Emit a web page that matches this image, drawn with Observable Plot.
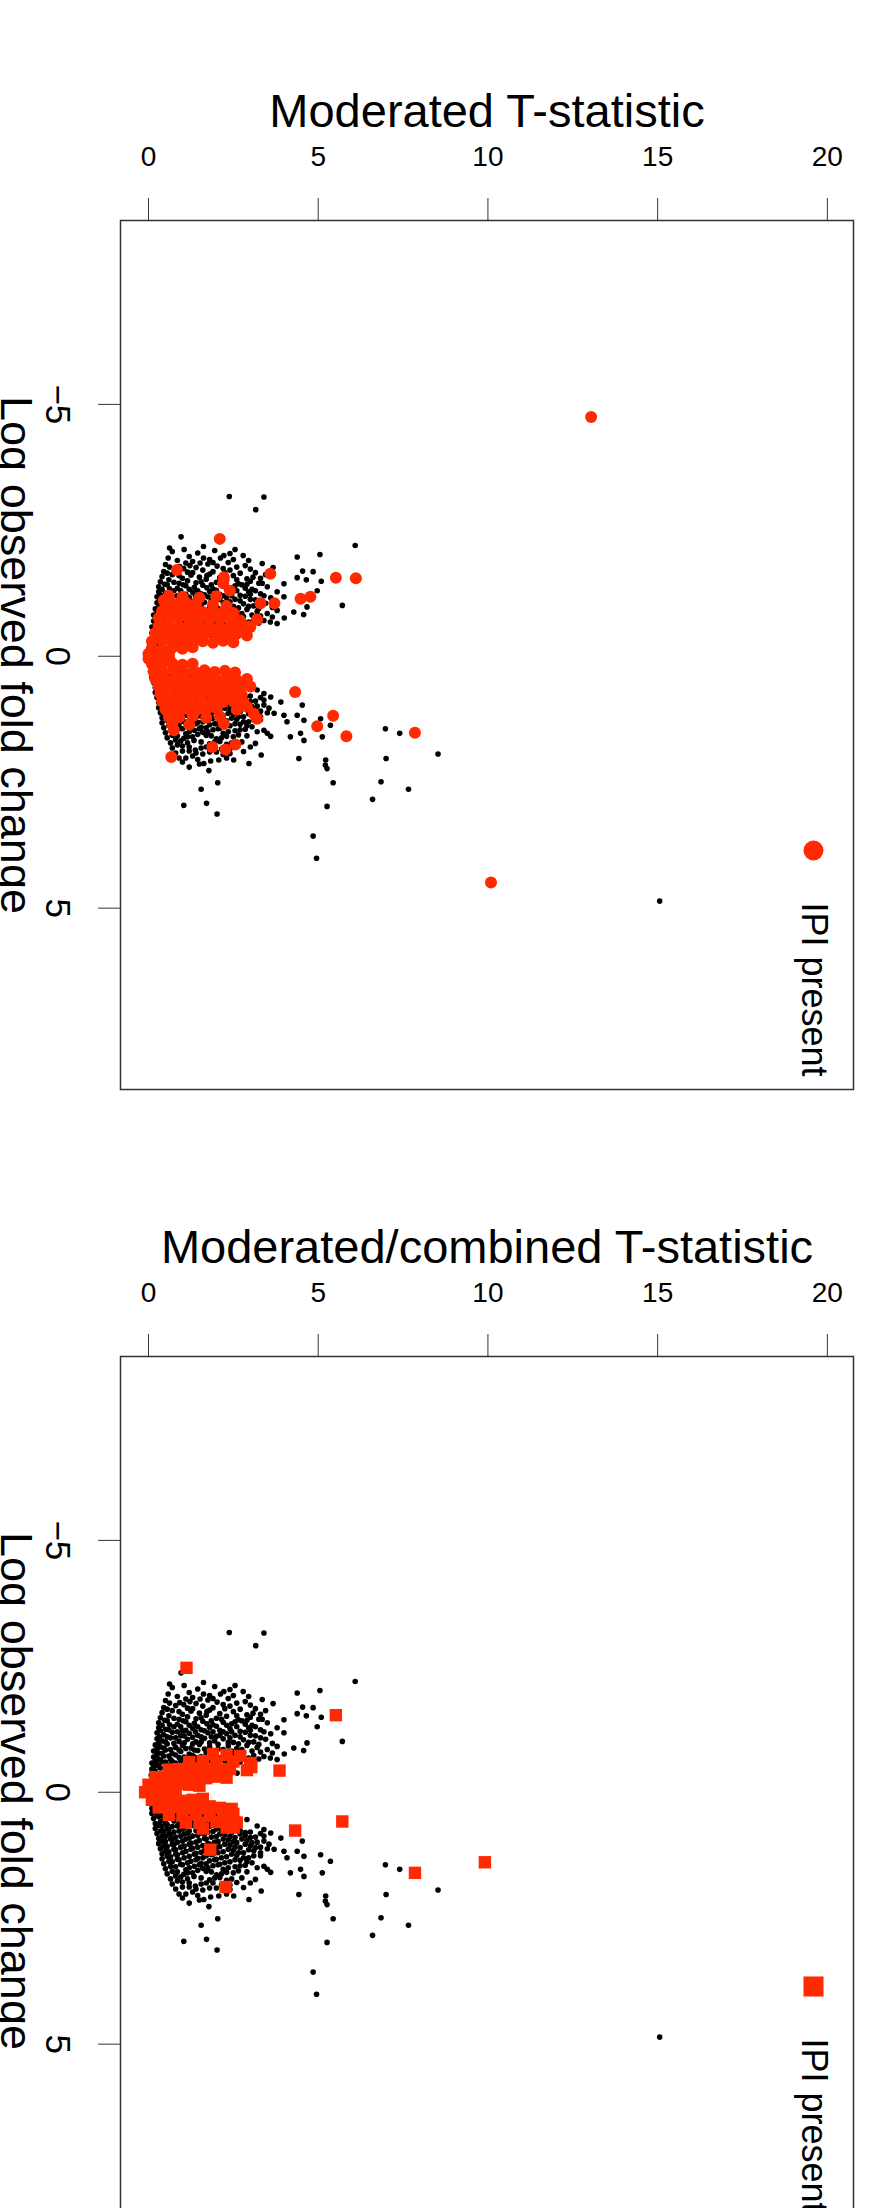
<!DOCTYPE html>
<html>
<head>
<meta charset="utf-8">
<script src="https://cdn.jsdelivr.net/npm/d3@7"></script>
<script src="https://cdn.jsdelivr.net/npm/@observablehq/plot@0.6"></script>
<style>
  html, body { margin: 0; padding: 0; background: #fff; }
  #p2 { height: 1072px; overflow: hidden; }
</style>
</head>
<body>
<div id="p1"></div>
<div id="p2"></div>
<script>
// ---- Data (T-statistic, log observed fold change) ----
const xTicks = [0, 5, 10, 15, 20];
const yTicks = [-5, 0, 5];
const titles = ["Moderated T-statistic", "Moderated/combined T-statistic"];
const yLabel = "Log observed fold change";
const legendLabel = "IPI present";

// All proteins (black), shared by both panels
const blackPoints = [
  [2.38,-3.17],[3.40,-3.16],[3.16,-2.91],[0.96,-2.37],[6.09,-2.2],
  [0.62,-2.15],[1.05,-2.12],[1.62,-2.18],[1.95,-2.1],[2.55,-2.12],
  [0.7,-2.08],[1.2,-1.98],[1.45,-2.05],[1.8,-1.92],[2.12,-1.95],[2.22,-2.0],[2.4,-2.04],[2.79,-2.0],[4.38,-1.97],[5.05,-2.02],
  [0.58,-1.95],[0.85,-1.9],[1.3,-1.88],[1.62,-1.95],[1.9,-1.86],[2.5,-1.92],[2.95,-1.9],
  [0.5,-1.82],[0.92,-1.78],[1.1,-1.85],[1.4,-1.76],[1.75,-1.83],[2.02,-1.79],[2.35,-1.86],[2.6,-1.77],[3.35,-1.84],[3.67,-1.76],
  [0.62,-1.77],[1.22,-1.8],[1.52,-1.85],[2.2,-1.74],[2.85,-1.8],[3.15,-1.66],
  [0.45,-1.68],[0.8,-1.72],[1.04,-1.74],[1.3,-1.66],[1.6,-1.71],[1.9,-1.68],[2.4,-1.71],[2.7,-1.65],[3.0,-1.73],[4.54,-1.69],[4.85,-1.68],
  [0.55,-1.65],[0.9,-1.6],[1.15,-1.67],[1.72,-1.6],[2.25,-1.66],[2.6,-1.52],[3.3,-1.55],
  [0.4,-1.58],[0.7,-1.62],[1.0,-1.55],[1.25,-1.61],[1.5,-1.57],[1.8,-1.63],[2.1,-1.56],[2.5,-1.6],[2.9,-1.54],[3.08,-1.57],[3.45,-1.62],
  [0.35,-1.48],[0.6,-1.52],[0.9,-1.45],[1.15,-1.5],[1.4,-1.46],[1.7,-1.53],[2.0,-1.47],[2.3,-1.51],[2.65,-1.44],[3.0,-1.49],[3.25,-1.45],[3.99,-1.44],[4.38,-1.56],[4.65,-1.52],[5.09,-1.49],
  [0.48,-1.43],[0.75,-1.47],[1.02,-1.42],[1.55,-1.48],[1.85,-1.42],[2.15,-1.45],[2.55,-1.4],[2.9,-1.43],[3.35,-1.45],
  [0.3,-1.38],[0.55,-1.42],[0.85,-1.35],[1.1,-1.4],[1.35,-1.37],[1.6,-1.41],[1.9,-1.34],[2.2,-1.39],[2.45,-1.36],[2.75,-1.42],[3.05,-1.33],[3.5,-1.38],[3.79,-1.28],
  [0.4,-1.33],[0.62,-1.34],[0.95,-1.3],[1.2,-1.33],[1.45,-1.3],[1.72,-1.36],[2.0,-1.31],[2.3,-1.33],[2.6,-1.3],[2.85,-1.35],[3.15,-1.3],
  [0.3,-1.28],[0.5,-1.25],[0.75,-1.3],[1.0,-1.22],[1.3,-1.27],[1.55,-1.24],[1.8,-1.29],[2.1,-1.23],[2.4,-1.26],[2.7,-1.21],[2.95,-1.28],[3.3,-1.24],[4.97,-1.3],
  [0.35,-1.22],[0.6,-1.24],[0.85,-1.2],[1.1,-1.23],[1.38,-1.2],[1.65,-1.22],[1.9,-1.2],[2.2,-1.2],[2.45,-1.2],[3.0,-1.23],[3.4,-1.2],
  [0.25,-1.18],[0.45,-1.14],[0.7,-1.19],[0.95,-1.12],[1.2,-1.17],[1.45,-1.13],[1.75,-1.18],[2.0,-1.11],[2.3,-1.16],[2.55,-1.13],[2.85,-1.19],[3.15,-1.12],[3.6,-1.16],[3.99,-1.18],
  [0.32,-1.1],[0.55,-1.1],[0.8,-1.08],[1.05,-1.12],[1.3,-1.09],[1.55,-1.1],[1.85,-1.1],[2.1,-1.13],[2.4,-1.08],[2.7,-1.1],[3.0,-1.13],[3.3,-1.08],
  [0.25,-1.06],[0.4,-1.02],[0.65,-1.08],[0.9,-1.01],[1.15,-1.05],[1.4,-1.0],[1.65,-1.07],[1.95,-1.02],[2.2,-1.06],[2.5,-0.99],[2.8,-1.04],[3.1,-1.0],[3.45,-1.05],[4.67,-0.98],[5.71,-1.01],
  [0.3,-0.98],[0.5,-1.0],[0.75,-0.97],[1.05,-0.98],[1.3,-0.96],[1.55,-1.0],[1.8,-0.98],[2.05,-0.95],[2.35,-0.99],[2.65,-0.96],[2.95,-0.99],[3.25,-0.95],[3.65,-0.97],
  [0.2,-0.94],[0.35,-0.9],[0.55,-0.96],[0.8,-0.89],[1.0,-0.93],[1.25,-0.88],[1.5,-0.95],[1.8,-0.9],[2.05,-0.86],[2.35,-0.92],[2.6,-0.87],[2.9,-0.93],[3.2,-0.89],[3.5,-0.85],[3.79,-0.91],[4.28,-0.88],[4.57,-0.83],
  [0.25,-0.86],[0.45,-0.88],[0.65,-0.85],[0.9,-0.84],[1.1,-0.87],[1.35,-0.84],[1.65,-0.86],[1.9,-0.83],[2.2,-0.85],[2.45,-0.82],[2.75,-0.85],[3.05,-0.82],[3.3,-0.8],[3.65,-0.78],[4.0,-0.76],
  [0.15,-0.82],[0.3,-0.78],[0.5,-0.84],[0.7,-0.77],[0.95,-0.81],[1.2,-0.76],[1.45,-0.83],[1.7,-0.78],[1.95,-0.74],[2.25,-0.8],[2.5,-0.76],[2.8,-0.79],[3.1,-0.73],[3.4,-0.71],[3.59,-0.68],[3.79,-0.65],
  [0.25,-0.75],[0.4,-0.77],[0.6,-0.72],[0.8,-0.74],[1.05,-0.7],[1.3,-0.73],[1.55,-0.71],[1.8,-0.73],[2.0,-0.7],[2.3,-0.72],[2.6,-0.7],[2.95,-0.68],[3.25,-0.66],
  [0.15,-0.7],[0.3,-0.66],[0.45,-0.72],[0.65,-0.65],[0.9,-0.69],[1.1,-0.64],[1.35,-0.7],[1.6,-0.66],[1.85,-0.62],[2.1,-0.68],[2.4,-0.63],[2.7,-0.6],
  [0.2,-0.62],[0.35,-0.64],[0.5,-0.6],[0.7,-0.61],[0.95,-0.63],[1.15,-0.6],[1.45,-0.62],[1.7,-0.6],[1.95,-0.64],[2.25,-0.62],[2.55,-0.6],[2.9,-0.6],
  [0.1,-0.58],[0.25,-0.55],[0.4,-0.6],[0.6,-0.54],[0.8,-0.58],[1.0,-0.52],[1.25,-0.57],[1.5,-0.53],[1.7,-0.49],[1.95,-0.55],[2.2,-0.5],[2.61,-0.38],
  [0.15,-0.5],[0.3,-0.52],[0.5,-0.48],[0.7,-0.5],[0.9,-0.52],[1.1,-0.48],[1.35,-0.5],[1.6,-0.47],[1.8,-0.5],[2.1,-0.46],[2.4,-0.5],
  [0.1,-0.46],[0.2,-0.42],[0.35,-0.48],[0.55,-0.41],[0.75,-0.45],[0.95,-0.4],[1.15,-0.44],[1.4,-0.39],[1.6,-0.36],[1.85,-0.42],
  [0.08,-0.34],[0.2,-0.3],[0.3,-0.36],[0.5,-0.29],[0.7,-0.33],[0.9,-0.27],[1.1,-0.31],[1.3,-0.26],
  [0.05,-0.22],[0.15,-0.18],[0.3,-0.24],[0.45,-0.17],[0.65,-0.21],[0.85,-0.16],
  [0.05,-0.1],[0.15,-0.07],[0.25,-0.12],[0.4,-0.05],
  [0.05,0.08],[0.15,0.12],[0.3,0.06],[0.45,0.1],
  [0.05,0.2],[0.15,0.24],[0.3,0.18],[0.45,0.22],
  [0.1,0.32],[0.2,0.28],[0.35,0.34],[0.55,0.29],[0.75,0.33],[0.95,0.27],
  [0.1,0.42],[0.25,0.38],[0.4,0.44],[0.6,0.39],[0.8,0.43],[1.0,0.37],[1.2,0.41],[1.45,0.36],
  [0.25,0.45],[0.45,0.5],[0.65,0.42],[0.85,0.48],[1.05,0.44],[1.25,0.5],[1.5,0.42],[1.75,0.52],[2.0,0.42],
  [0.15,0.52],[0.3,0.48],[0.5,0.54],[0.7,0.47],[0.9,0.51],[1.1,0.46],[1.35,0.53],[1.6,0.48],[1.85,0.45],[2.1,0.5],
  [0.2,0.62],[0.35,0.58],[0.55,0.64],[0.75,0.57],[1.0,0.61],[1.2,0.56],[1.45,0.63],[1.7,0.58],[1.95,0.55],[2.2,0.6],[2.5,0.57],[2.9,0.54],
  [0.3,0.66],[0.5,0.6],[0.7,0.68],[0.9,0.62],[1.1,0.66],[1.35,0.6],[1.6,0.67],[1.85,0.62],[2.1,0.68],[2.4,0.62],[2.7,0.6],
  [0.2,0.72],[0.4,0.68],[0.6,0.74],[0.85,0.67],[1.05,0.71],[1.3,0.66],[1.55,0.73],[1.8,0.68],[2.05,0.65],[2.35,0.7],[2.6,0.66],[3.2,0.67],[3.4,0.74],
  [0.35,0.77],[0.55,0.72],[0.75,0.79],[1.0,0.73],[1.2,0.77],[1.5,0.71],[1.75,0.79],[2.0,0.73],[2.25,0.79],[2.55,0.73],[2.85,0.8],[3.3,0.82],
  [0.25,0.82],[0.45,0.78],[0.65,0.84],[0.9,0.77],[1.15,0.81],[1.4,0.76],[1.65,0.83],[1.9,0.78],[2.15,0.75],[2.45,0.8],[2.7,0.76],[3.0,0.79],[3.6,0.81],
  [0.4,0.87],[0.6,0.83],[0.8,0.89],[1.05,0.83],[1.3,0.87],[1.55,0.81],[1.85,0.89],[2.1,0.83],[2.4,0.88],[2.7,0.83],[3.0,0.9],[3.4,0.87],
  [0.3,0.92],[0.5,0.88],[0.7,0.94],[0.95,0.87],[1.2,0.91],[1.45,0.86],[1.7,0.93],[2.0,0.88],[2.25,0.85],[2.55,0.9],[2.85,0.86],[3.15,0.89],[3.9,0.91],
  [0.4,0.97],[0.65,0.93],[0.85,0.99],[1.1,0.93],[1.4,0.99],[1.65,0.92],[1.95,0.99],[2.2,0.93],[2.5,0.98],[2.75,0.93],[3.05,1.0],[3.4,0.97],
  [0.3,1.02],[0.5,0.98],[0.75,1.04],[1.0,0.97],[1.25,1.01],[1.5,0.96],[1.8,1.03],[2.05,0.98],[2.35,0.95],[2.6,1.0],[2.9,0.96],[3.2,0.99],[3.55,1.03],[4.53,0.97],
  [0.45,1.07],[0.7,1.03],[0.95,1.09],[1.2,1.03],[1.45,1.09],[1.75,1.02],[2.0,1.1],[2.25,1.03],[2.55,1.09],[2.85,1.03],[3.15,1.1],[3.5,1.12],
  [0.35,1.12],[0.55,1.08],[0.8,1.14],[1.05,1.07],[1.3,1.11],[1.6,1.06],[1.85,1.13],[2.1,1.08],[2.4,1.05],[2.7,1.1],[3.0,1.06],[3.3,1.09],[3.7,1.13],
  [0.5,1.17],[0.75,1.13],[1.0,1.2],[1.25,1.13],[1.55,1.19],[1.8,1.12],[2.05,1.2],[2.35,1.13],[2.65,1.2],[2.95,1.14],[3.3,1.2],
  [0.4,1.22],[0.6,1.18],[0.85,1.24],[1.1,1.17],[1.4,1.21],[1.65,1.16],[1.9,1.23],[2.2,1.18],[2.5,1.15],[2.8,1.2],[3.1,1.16],[3.99,1.17],[4.38,1.17],[5.07,1.24],[4.58,1.27],
  [0.55,1.27],[0.8,1.23],[1.05,1.3],[1.35,1.23],[1.6,1.3],[1.85,1.24],[2.15,1.3],[2.45,1.23],[2.8,1.3],[3.1,1.26],
  [0.4,1.32],[0.65,1.28],[0.9,1.34],[1.2,1.27],[1.45,1.31],[1.7,1.26],[2.0,1.33],[2.3,1.28],[2.6,1.25],[2.95,1.3],[3.3,1.26],[4.08,1.3],
  [0.6,1.37],[0.85,1.33],[1.15,1.4],[1.4,1.34],[1.7,1.42],[1.95,1.34],[2.25,1.4],[2.55,1.34],[2.9,1.38],
  [0.45,1.42],[0.7,1.38],[1.0,1.44],[1.25,1.37],[1.55,1.41],[1.8,1.36],[2.1,1.43],[2.4,1.38],[2.7,1.35],[3.05,1.4],[3.4,1.47],[5.36,1.37],[6.98,1.44],
  [0.65,1.47],[0.95,1.43],[1.2,1.5],[1.5,1.44],[1.75,1.5],[2.05,1.44],[2.35,1.5],[2.7,1.46],[3.2,1.5],
  [0.5,1.52],[0.8,1.48],[1.1,1.54],[1.35,1.47],[1.6,1.51],[1.9,1.46],[2.2,1.53],[2.55,1.48],[2.85,1.45],[3.5,1.53],[4.48,1.53],[7.4,1.53],
  [0.7,1.57],[1.15,1.6],[1.45,1.55],[1.85,1.58],[2.15,1.62],[2.5,1.6],[2.9,1.58],
  [0.55,1.62],[0.85,1.58],[1.04,1.63],[1.3,1.6],[1.7,1.57],[2.0,1.64],[2.3,1.59],[2.65,1.56],[3.6,1.59],[4.18,1.6],[5.12,1.6],
  [0.8,1.66],[1.15,1.72],[1.55,1.7],[1.95,1.7],[2.3,1.75],[2.75,1.7],
  [0.65,1.72],[0.95,1.68],[1.34,1.67],[1.8,1.74],[2.1,1.69],[2.45,1.72],[3.15,1.73],[4.58,1.67],
  [0.85,1.76],[1.2,1.8],[1.55,1.82],[1.9,1.8],[2.4,1.84],
  [0.7,1.82],[1.0,1.78],[1.38,1.86],[1.7,1.8],[2.15,1.84],[2.6,1.79],[3.0,1.8],
  [1.0,1.88],[1.4,1.92],[1.8,1.9],[2.2,1.95],
  [0.8,1.92],[1.2,1.88],[1.6,1.94],[2.0,1.9],[2.4,1.93],[2.8,1.89],[8.53,1.94],
  [1.1,2.02],[1.45,2.05],[2.3,2.02],
  [0.9,2.02],[1.3,1.98],[1.63,2.13],[2.07,2.06],[2.51,2.06],[3.32,1.96],[4.43,2.03],[5.22,2.06],[7.0,2.03],
  [1.0,2.1],[1.5,2.14],[1.83,2.08],[2.96,2.13],[5.26,2.23],[5.21,2.16],
  [1.2,2.2],[1.78,2.27],[2.04,2.51],[5.44,2.51],[6.85,2.49],[1.55,2.64],[7.66,2.64],[6.6,2.84],
  [1.04,2.96],[1.71,2.92],[5.26,2.98],[2.02,3.13],[4.85,3.57],[4.95,4.01],[15.06,4.86]
];

// IPI present, panel 1 (moderated T)
const redPoints1 = [
  [0.0,-0.05],[0.3,-0.06],[0.6,-0.04],
  [0.1,-0.16],[0.4,-0.14],[0.7,-0.17],[1.0,-0.15],[1.3,-0.18],
  [0.1,-0.3],[0.4,-0.32],[0.7,-0.29],[1.0,-0.31],[1.3,-0.28],[1.6,-0.3],[1.9,-0.27],[2.2,-0.31],[2.5,-0.28],
  [0.2,-0.46],[0.5,-0.44],[0.8,-0.47],[1.1,-0.45],[1.4,-0.43],[1.7,-0.46],[2.0,-0.44],[2.3,-0.42],[2.6,-0.45],[2.9,-0.41],
  [0.3,-0.6],[0.6,-0.62],[0.9,-0.59],[1.2,-0.61],[1.5,-0.58],[1.8,-0.6],[2.1,-0.57],[2.4,-0.59],[2.7,-0.56],[3.0,-0.58],
  [0.3,-0.76],[0.6,-0.74],[0.9,-0.77],[1.2,-0.75],[1.5,-0.73],[1.8,-0.76],[2.1,-0.74],[2.4,-0.72],[2.7,-0.71],[3.2,-0.73],
  [0.4,-0.9],[0.7,-0.92],[1.0,-0.89],[1.3,-0.91],[1.6,-0.88],[1.9,-0.9],[2.2,-0.87],[2.5,-0.86],
  [0.5,-1.05],[0.8,-1.03],[1.1,-1.06],[1.4,-1.04],[1.9,-1.02],[2.3,-1.0],
  [0.6,-1.2],[1.0,-1.18],[1.5,-1.16],[2.0,-1.19],
  [2.2,-1.45],[2.4,-1.3],
  [0.45,-1.11],[0.84,-1.71],[2.10,-2.33],[2.22,-1.57],[3.59,-1.64],[3.71,-1.05],[3.30,-1.05],
  [4.48,-1.14],[4.77,-1.18],[5.52,-1.56],[6.11,-1.55],[2.95,-0.59],[13.04,-4.75],
  [0.0,0.05],[0.3,0.06],[0.6,0.04],
  [0.1,0.15],[0.4,0.16],[0.7,0.14],[1.0,0.17],[1.3,0.15],
  [0.15,0.3],[0.45,0.31],[0.75,0.29],[1.05,0.32],[1.35,0.3],[1.65,0.28],[1.95,0.31],[2.25,0.29],[2.55,0.32],
  [0.2,0.45],[0.5,0.46],[0.8,0.44],[1.1,0.47],[1.4,0.45],[1.7,0.43],[2.0,0.46],[2.3,0.44],[2.6,0.47],[2.9,0.45],
  [0.3,0.6],[0.6,0.61],[0.9,0.59],[1.2,0.62],[1.5,0.6],[1.8,0.58],[2.1,0.61],[2.4,0.59],[2.7,0.62],[3.0,0.6],
  [0.35,0.75],[0.65,0.76],[0.95,0.74],[1.25,0.77],[1.55,0.75],[1.85,0.73],[2.15,0.76],[2.45,0.74],[2.75,0.77],
  [0.4,0.9],[0.7,0.91],[1.0,0.89],[1.3,0.92],[1.6,0.9],[1.9,0.88],[2.2,0.91],[2.5,0.89],[2.8,0.92],
  [0.5,1.05],[0.8,1.06],[1.1,1.04],[1.4,1.07],[1.7,1.05],[2.0,1.03],[2.6,1.06],
  [0.6,1.2],[0.9,1.21],[1.3,1.19],[1.7,1.22],[2.1,1.2],
  [0.7,1.35],[1.2,1.36],
  [2.22,1.34],[3.10,1.14],[3.20,1.24],[2.9,1.0],[0.75,1.47],[0.67,2.0],[1.88,1.80],[2.27,1.85],[2.56,1.75],
  [4.32,0.71],[5.44,1.18],[4.97,1.39],[5.83,1.59],[7.85,1.52],[10.09,4.49]
];

// IPI present, panel 2 (moderated/combined T)
const redPoints2 = [
  [1.9,-0.76],[2.3,-0.74],[2.7,-0.72],
  [1.2,-0.6],[1.6,-0.62],[2.0,-0.59],[2.5,-0.61],[3.0,-0.58],
  [0.6,-0.45],[0.9,-0.46],[1.2,-0.44],[1.5,-0.47],[1.8,-0.45],[2.1,-0.43],[2.4,-0.46],[2.9,-0.44],
  [0.2,-0.3],[0.5,-0.31],[0.8,-0.29],[1.1,-0.32],[1.4,-0.3],[1.7,-0.28],[2.0,-0.31],[2.3,-0.29],
  [0.0,-0.15],[0.3,-0.16],[0.6,-0.14],[0.9,-0.17],[1.2,-0.15],[1.5,-0.13],
  [-0.1,0.0],[0.2,0.01],[0.5,-0.01],[0.8,0.02],
  [0.1,0.15],[0.4,0.16],[0.7,0.14],[1.0,0.17],[1.3,0.15],[1.6,0.13],
  [0.3,0.3],[0.6,0.31],[0.9,0.29],[1.2,0.32],[1.5,0.3],[1.8,0.28],[2.1,0.31],[2.45,0.33],
  [0.6,0.45],[1.0,0.46],[1.4,0.44],[1.8,0.47],[2.2,0.45],[2.5,0.43],
  [1.1,0.6],[1.5,0.61],[2.0,0.59],[2.35,0.62],[2.6,0.6],
  [1.6,0.72],[2.3,0.7],[2.51,0.7],
  [1.12,-2.47],[5.52,-1.53],[3.86,-0.43],[3.03,-0.5],[5.71,0.58],[4.32,0.76],
  [9.91,1.39],[7.85,1.6],[1.82,1.14],[2.27,1.88]
];

const RED = "#ff2a00";
const FONT = "'Liberation Sans', Arial, Helvetica, sans-serif";

function panel(title, red, symbol, rRed, rLegend) {
  return Plot.plot({
    width: 885,
    height: 1136,
    marginLeft: 120,
    marginRight: 32,
    marginTop: 220,
    marginBottom: 47,
    x: {domain: [-0.825, 20.77]},
    y: {domain: [-8.65, 8.6], reverse: true},
    style: {fontFamily: FONT, background: "#fff", color: "#000"},
    marks: [
      Plot.axisX({anchor: "top", ticks: xTicks, tickSize: 23, tickPadding: 32, fontSize: 28, label: null, tickFormat: d => String(d), stroke: "#333"}),
      Plot.axisY({anchor: "left", ticks: yTicks, tickSize: 22, tickPadding: 28, tickRotate: 90, fontSize: 35, label: null, stroke: "#333"}),
      Plot.text([title], {frameAnchor: "top", dy: -94, lineAnchor: "bottom", fontSize: 47, fill: "#000"}),
      Plot.text([yLabel], {frameAnchor: "left", dx: -120, rotate: 90, textAnchor: "middle", lineAnchor: "bottom", fontSize: 45, fill: "#000"}),
      Plot.dot(blackPoints, {x: d => d[0], y: d => d[1], r: 2.8, fill: "#000"}),
      Plot.dot(red, {x: d => d[0], y: d => d[1], r: rRed, fill: RED, symbol}),
      Plot.dot([legendLabel], {frameAnchor: "bottom-right", dx: -40, dy: -239, r: rLegend, fill: RED, symbol}),
      Plot.text([legendLabel], {frameAnchor: "bottom-right", dx: -40, dy: -187, rotate: 90, textAnchor: "start", lineAnchor: "middle", fontSize: 36, fill: "#000"}),
      Plot.frame({stroke: "#333", strokeWidth: 1.5})
    ]
  });
}

document.getElementById("p1").append(panel(titles[0], redPoints1, "circle", 6, 10));
document.getElementById("p2").append(panel(titles[1], redPoints2, "square", 7, 11.3));
</script>
</body>
</html>
